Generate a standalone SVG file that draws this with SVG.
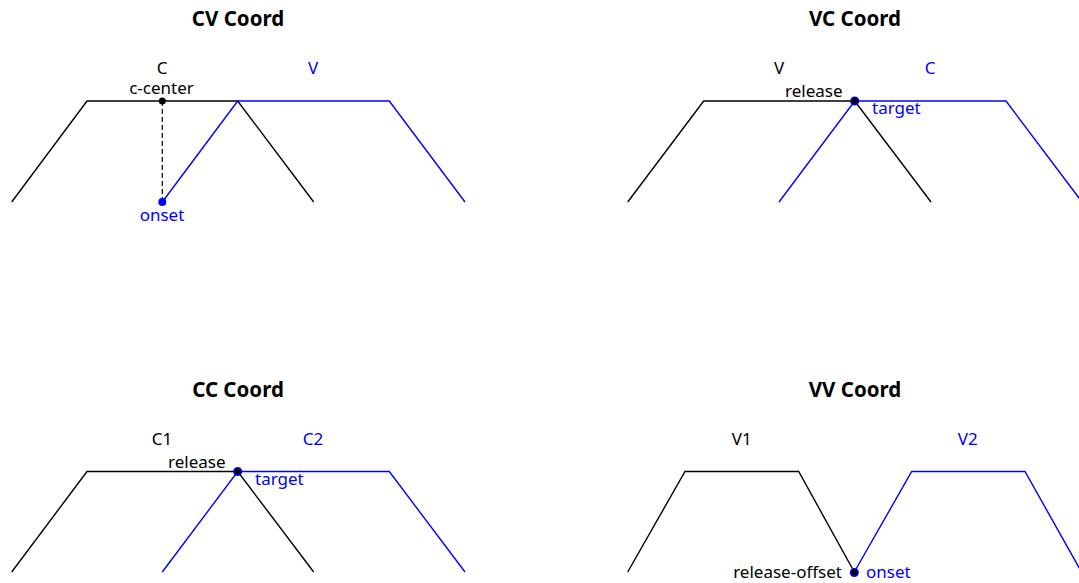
<svg xmlns="http://www.w3.org/2000/svg" width="1079" height="583" viewBox="0 0 1079 583">
<style>
.title{font-family:"Noto Sans","Open Sans",sans-serif;font-weight:bold;font-size:20.5px;fill:#000;text-anchor:middle}
.lbl{font-family:"Noto Sans","Open Sans",sans-serif;font-size:17px}
.k{fill:#000}
.b{fill:#0000ff}
.m{text-anchor:middle}
.e{text-anchor:end}
.gk{fill:none;stroke:#000;stroke-width:1.4}
.gb{fill:none;stroke:#0000ff;stroke-width:1.4}
.dot{fill:#000;stroke:#0000ff;stroke-width:1.5}
</style>
<rect width="1079" height="583" fill="#fff"/>

<g id="cv-coord">
  <text class="title" x="238" y="26">CV Coord</text>
  <g id="cv-connectors">
    <polyline class="gk" points="11.7,202 87,101 237.7,101 313.7,202"/>
    <polyline class="gb" points="162.3,202 237.7,101 389.3,101 465,202"/>
    <line x1="162.3" y1="101" x2="162.3" y2="202" stroke="#000" stroke-width="1.2" stroke-dasharray="5,3"/>
  </g>
  <g id="cv-c"><text class="lbl k m" x="162" y="74">C</text></g>
  <g id="cv-v"><text class="lbl b m" x="313" y="74">V</text></g>
  <g id="cv-center"><circle cx="162.3" cy="101" r="3.5" fill="#000"/><text class="lbl k m" x="161.5" y="93.5">c-center</text></g>
  <g id="cv-onset"><circle cx="162.3" cy="202" r="4" fill="#0000ff"/><text class="lbl b m" x="162" y="221">onset</text></g>
</g>

<g id="vc-coord">
  <text class="title" x="855" y="26">VC Coord</text>
  <g id="vc-connectors">
    <polyline class="gk" points="627.7,202 703.7,101 854.7,101 931,202"/>
    <polyline class="gb" points="779,202 854.7,101 1006,101 1082,202"/>
  </g>
  <g id="vc-v"><text class="lbl k m" x="779" y="74">V</text></g>
  <g id="vc-c"><text class="lbl b m" x="930" y="74">C</text></g>
  <g id="vc-point"><circle class="dot" cx="854.7" cy="101" r="3.8"/>
    <text class="lbl k e" x="842.5" y="97">release</text>
    <text class="lbl b" x="872" y="114">target</text></g>
</g>

<g id="cc-coord">
  <text class="title" x="238" y="397">CC Coord</text>
  <g id="cc-connectors">
    <polyline class="gk" points="11.7,572 87,471.5 237.7,471.5 313.7,572"/>
    <polyline class="gb" points="162.3,572 237.7,471.5 389.3,471.5 465,572"/>
  </g>
  <g id="cc-c1"><text class="lbl k m" x="162" y="444.5">C1</text></g>
  <g id="cc-c2"><text class="lbl b m" x="313" y="444.5">C2</text></g>
  <g id="cc-point"><circle class="dot" cx="237.7" cy="471.5" r="3.8"/>
    <text class="lbl k e" x="225.5" y="467.5">release</text>
    <text class="lbl b" x="255" y="485">target</text></g>
</g>

<g id="vv-coord">
  <text class="title" x="855" y="397">VV Coord</text>
  <g id="vv-connectors">
    <polyline class="gk" points="627.7,572 685,471.5 798.7,471.5 854.3,572"/>
    <polyline class="gb" points="854.3,572 911.7,471.5 1025,471.5 1081.5,572"/>
  </g>
  <g id="vv-v1"><text class="lbl k m" x="741.7" y="444.5">V1</text></g>
  <g id="vv-v2"><text class="lbl b m" x="967.7" y="444.5">V2</text></g>
  <g id="vv-point"><circle class="dot" cx="854.3" cy="572.5" r="3.8"/>
    <text class="lbl k e" x="842" y="578">release-offset</text>
    <text class="lbl b" x="866" y="578">onset</text></g>
</g>
</svg>
